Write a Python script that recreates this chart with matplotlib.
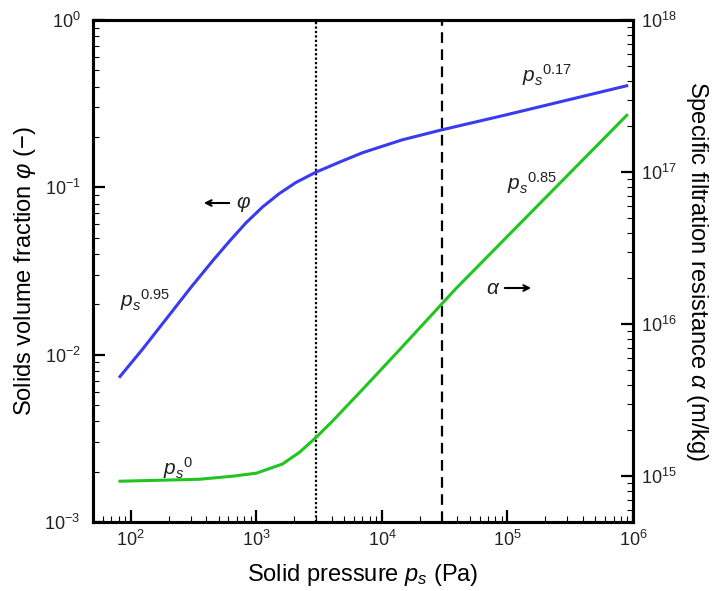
import matplotlib
matplotlib.use("Agg")
import matplotlib.pyplot as plt
import numpy as np

plt.rcParams['font.family'] = ['Liberation Sans', 'DejaVu Sans']
plt.rcParams['mathtext.fontset'] = 'custom'
plt.rcParams['mathtext.rm'] = 'Liberation Sans'
plt.rcParams['mathtext.it'] = 'Liberation Sans:italic'
plt.rcParams['mathtext.bf'] = 'Liberation Sans:bold'

# solids volume fraction phi vs solid pressure (left axis)
ps_phi = [82, 125, 302, 449, 610, 828, 1122, 1524, 2070, 2992, 4581, 7000, 14550,
          29800, 100000, 891000]
phi = [0.0074, 0.01086, 0.0253, 0.0364, 0.0476, 0.0614, 0.0764, 0.0918, 0.107, 0.1233,
       0.1413, 0.1610, 0.1923, 0.2203, 0.2723, 0.4046]

# specific filtration resistance alpha vs solid pressure (right axis)
ps_alpha = [82, 352, 646, 1000, 1611, 2203, 2992, 4055, 7482, 13770, 39000, 100000, 891000]
alpha = [9.27e14, 9.55e14, 1.0e15, 1.047e15, 1.202e15, 1.435e15, 1.80e15, 2.31e15,
         3.94e15, 6.76e15, 1.718e16, 3.78e16, 2.36e17]

ps_dotted = 3000
ps_dashed = 30000

fig = plt.figure(figsize=(7.12, 5.91), dpi=100)
ax = fig.add_axes([93/712, 1-522/591, 540/712, 502/591])
ax2 = ax.twinx()

ax.plot(ps_phi, phi, color='#3a3af0', lw=2.2, zorder=3)
ax2.plot(ps_alpha, alpha, color='#22c422', lw=2.2, zorder=3)

ax.axvline(ps_dotted, color='black', lw=1.6, ls=(0, (1, 1)))
ax.axvline(ps_dashed, color='black', lw=1.6, ls=(0, (4.8, 2.9)))

ax.set_xscale('log')
ax.set_yscale('log')
ax2.set_yscale('log')
ax.set_xlim(50, 1e6)
ax.set_ylim(1e-3, 1)
ax2.set_ylim(5e14, 1e18)

for s in ax.spines.values():
    s.set_linewidth(2.2)
for s in ax2.spines.values():
    s.set_linewidth(2.2)

ax.tick_params(which='both', direction='in', top=False, right=False, colors='black',
               labelcolor='#222222', labelsize=13)
ax.tick_params(which='major', length=8.6, width=1.6)
ax.tick_params(which='minor', length=4.3, width=0.8)
ax.tick_params(axis='y', pad=9)
ax.tick_params(axis='x', pad=6)
ax2.tick_params(which='both', direction='in', labelcolor='#222222', labelsize=13, pad=6)
ax2.tick_params(which='major', length=8.6, width=1.6)
ax2.tick_params(which='minor', length=4.3, width=0.8)

ax.set_xlabel(r'Solid pressure $p_s$ (Pa)', fontsize=17, labelpad=8)
ax.set_ylabel(r'Solids volume fraction $\varphi$ (−)', fontsize=17, labelpad=5)
ax2.set_ylabel(r'Specific filtration resistance $\alpha$ (m/kg)', fontsize=17,
               rotation=270, labelpad=24)

def fx(px):
    return (px - 93) / 540

def fy(py):
    return (522 - py) / 502

tkw = dict(transform=ax.transAxes, fontsize=15, color='#222222')
ax.text(fx(120), fy(300), r'$p_s{}^{\mathrm{0.95}}$', ha='left', va='center', **tkw)
ax.text(fx(163), fy(468), r'$p_s{}^{\mathrm{0}}$', ha='left', va='center', **tkw)
ax.text(fx(522), fy(75), r'$p_s{}^{\mathrm{0.17}}$', ha='left', va='center', **tkw)
ax.text(fx(507), fy(183), r'$p_s{}^{\mathrm{0.85}}$', ha='left', va='center', **tkw)

ax.text(fx(236), fy(203), 'φ', style='italic', ha='left', va='center', **tkw)
ax.annotate('', xy=(fx(201), fy(203)), xytext=(fx(232), fy(203)), xycoords='axes fraction',
            arrowprops=dict(arrowstyle='->', lw=1.5, color='black'))
ax.text(fx(498), fy(288), 'α', style='italic', ha='right', va='center', **tkw)
ax.annotate('', xy=(fx(534), fy(288)), xytext=(fx(502), fy(288)), xycoords='axes fraction',
            arrowprops=dict(arrowstyle='->', lw=1.5, color='black'))

fig.savefig('out.png', dpi=100)
